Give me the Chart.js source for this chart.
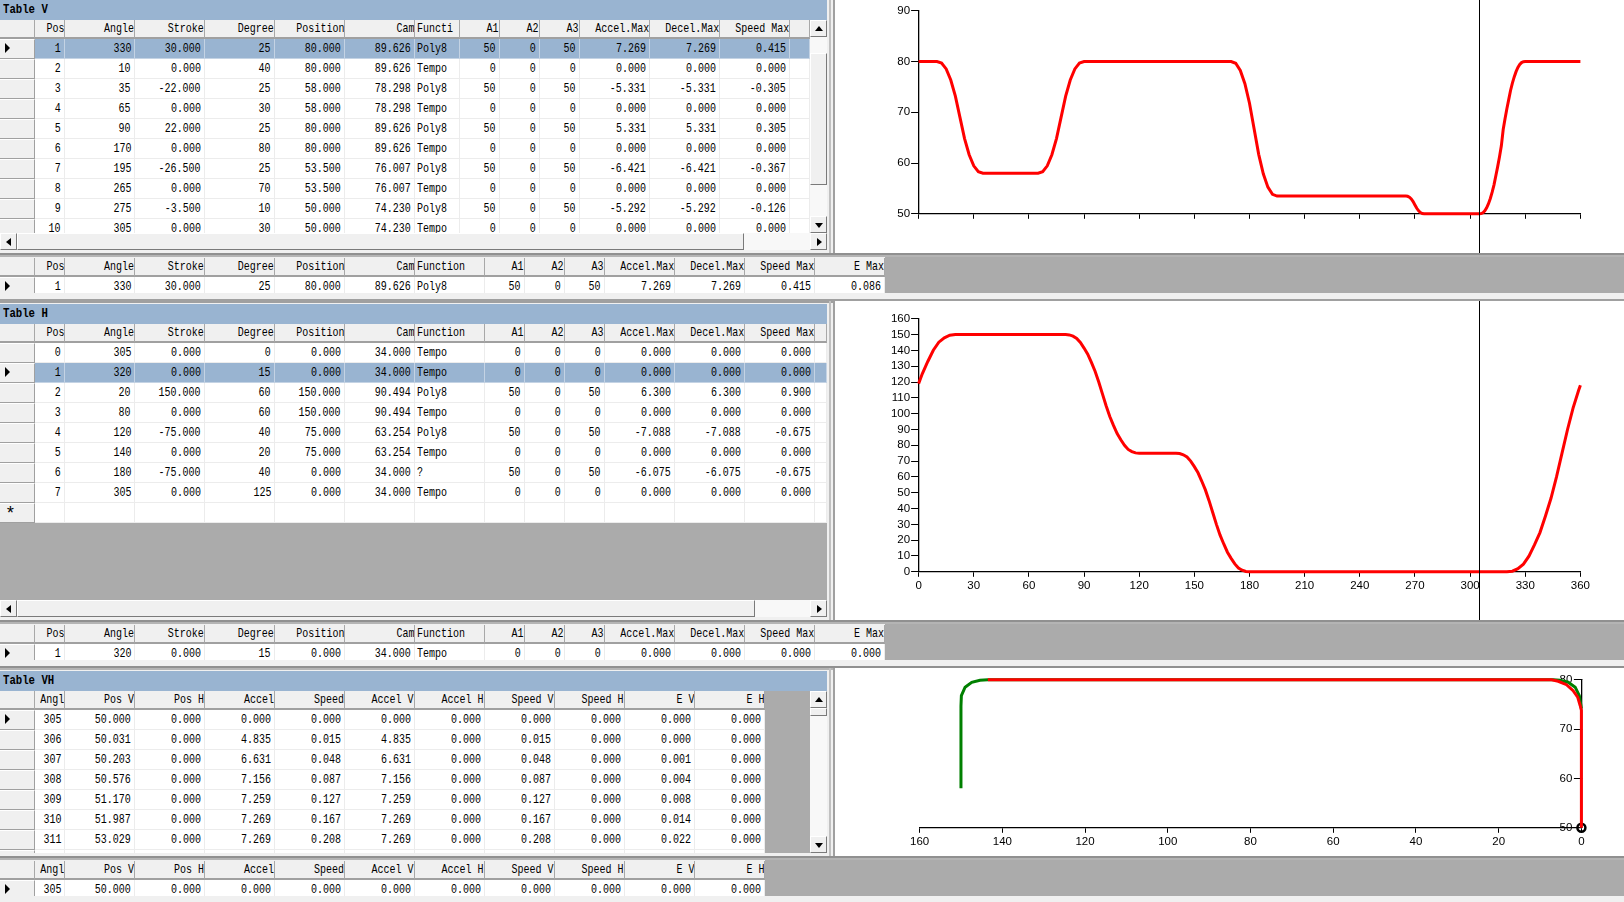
<!DOCTYPE html>
<html>
<head>
<meta charset="utf-8">
<title>Cam tables</title>
<script src="https://cdn.jsdelivr.net/npm/chart.js@4"></script>
<style>
html,body{margin:0;padding:0;background:#f0f0f0;width:1624px;height:902px;overflow:hidden}
#app{position:relative;width:1624px;height:902px;font-family:"Liberation Mono",monospace;font-size:13px;color:#000}
.b{position:absolute}
.clip{position:absolute;overflow:hidden}
.cell{position:absolute;box-sizing:border-box;overflow:hidden;white-space:nowrap;background:#fff;border-right:1px solid #ececec;border-bottom:1px solid #ececec}
.cell span{position:absolute;top:0;display:block}
.cell.sel{background:#99b4d1;border-color:#c4d3e4}
.cell.head{background:#f0f0f0;border-right:1px solid #a8a8a8;border-bottom:2px solid #a0a0a0}
.cell.rh{background:#f0f0f0;border-right:1px solid #a0a0a0;border-bottom:1px solid #a0a0a0;border-top:1px solid #fff}
.title{position:absolute;left:0;width:827px;background:#99b4d1;font-weight:bold}
.title span{position:absolute;left:3px;display:block;transform:scaleX(.82);transform-origin:left}
.btn{position:absolute;box-sizing:border-box;background:#f0f0f0;border:1px solid;border-color:#fff #7a7a7a #7a7a7a #fff}
.track{position:absolute;background:#f8f8f8}
.tri{position:absolute;width:0;height:0;border-style:solid;border-color:transparent}
.panel{position:absolute;left:835px;width:789px;background:#fff}
canvas{position:absolute;left:0;top:0}
</style>
</head>
<body>
<div id="app"></div>
<script>
// table headers
const headV = ['Pos','Angle','Stroke','Degree','Position','Cam','Functi','A1','A2','A3','Accel.Max','Decel.Max','Speed Max',''];
const headFull = ['Pos','Angle','Stroke','Degree','Position','Cam','Function','A1','A2','A3','Accel.Max','Decel.Max','Speed Max','E Max'];
const headH = ['Pos','Angle','Stroke','Degree','Position','Cam','Function','A1','A2','A3','Accel.Max','Decel.Max','Speed Max',''];
const headVH = ['Angl','Pos V','Pos H','Accel','Speed','Accel V','Accel H','Speed V','Speed H','E V','E H'];

// table rows
const rowsV = [
 ['1','330','30.000','25','80.000','89.626','Poly8','50','0','50','7.269','7.269','0.415',''],
 ['2','10','0.000','40','80.000','89.626','Tempo','0','0','0','0.000','0.000','0.000',''],
 ['3','35','-22.000','25','58.000','78.298','Poly8','50','0','50','-5.331','-5.331','-0.305',''],
 ['4','65','0.000','30','58.000','78.298','Tempo','0','0','0','0.000','0.000','0.000',''],
 ['5','90','22.000','25','80.000','89.626','Poly8','50','0','50','5.331','5.331','0.305',''],
 ['6','170','0.000','80','80.000','89.626','Tempo','0','0','0','0.000','0.000','0.000',''],
 ['7','195','-26.500','25','53.500','76.007','Poly8','50','0','50','-6.421','-6.421','-0.367',''],
 ['8','265','0.000','70','53.500','76.007','Tempo','0','0','0','0.000','0.000','0.000',''],
 ['9','275','-3.500','10','50.000','74.230','Poly8','50','0','50','-5.292','-5.292','-0.126',''],
 ['10','305','0.000','30','50.000','74.230','Tempo','0','0','0','0.000','0.000','0.000','']
];
const rowV2 = ['1','330','30.000','25','80.000','89.626','Poly8','50','0','50','7.269','7.269','0.415','0.086'];
const rowsH = [
 ['0','305','0.000','0','0.000','34.000','Tempo','0','0','0','0.000','0.000','0.000',''],
 ['1','320','0.000','15','0.000','34.000','Tempo','0','0','0','0.000','0.000','0.000',''],
 ['2','20','150.000','60','150.000','90.494','Poly8','50','0','50','6.300','6.300','0.900',''],
 ['3','80','0.000','60','150.000','90.494','Tempo','0','0','0','0.000','0.000','0.000',''],
 ['4','120','-75.000','40','75.000','63.254','Poly8','50','0','50','-7.088','-7.088','-0.675',''],
 ['5','140','0.000','20','75.000','63.254','Tempo','0','0','0','0.000','0.000','0.000',''],
 ['6','180','-75.000','40','0.000','34.000','?','50','0','50','-6.075','-6.075','-0.675',''],
 ['7','305','0.000','125','0.000','34.000','Tempo','0','0','0','0.000','0.000','0.000',''],
 ['','','','','','','','','','','','','','']
];
const rowH2 = ['1','320','0.000','15','0.000','34.000','Tempo','0','0','0','0.000','0.000','0.000','0.000'];
const rowsVH = [
 ['305','50.000','0.000','0.000','0.000','0.000','0.000','0.000','0.000','0.000','0.000'],
 ['306','50.031','0.000','4.835','0.015','4.835','0.000','0.015','0.000','0.000','0.000'],
 ['307','50.203','0.000','6.631','0.048','6.631','0.000','0.048','0.000','0.001','0.000'],
 ['308','50.576','0.000','7.156','0.087','7.156','0.000','0.087','0.000','0.004','0.000'],
 ['309','51.170','0.000','7.259','0.127','7.259','0.000','0.127','0.000','0.008','0.000'],
 ['310','51.987','0.000','7.269','0.167','7.269','0.000','0.167','0.000','0.014','0.000'],
 ['311','53.029','0.000','7.269','0.208','7.269','0.000','0.208','0.000','0.022','0.000'],
 ['','','','','','','','','','','']
];
const rowVH2 = ['305','50.000','0.000','0.000','0.000','0.000','0.000','0.000','0.000','0.000','0.000'];

// position V against angle
const angleV = [0,10,12.5,15,17.5,20,22.5,25,27.5,30,32.5,35,65,67.5,70,72.5,75,77.5,80,82.5,85,87.5,90,170,172.5,175,177.5,180,182.5,185,187.5,190,192.5,195,265,266,267,268,269,270,271,272,273,274,275,305,306,307,308,309,310,311,312,313,314,315,316,317,318,319,320,321,322,323,324,325,326,327,328,329,330,360];
const posV = [80,80,79.71,78.55,76.37,73.18,69,64.82,61.63,59.45,58.29,58,58,58.29,59.45,61.63,64.82,69,73.18,76.37,78.55,79.71,80,80,79.66,78.25,75.63,71.79,66.75,61.71,57.87,55.25,53.84,53.5,53.5,53.45,53.27,52.92,52.42,51.75,51.08,50.58,50.23,50.05,50,50,50.031,50.203,50.576,51.17,51.987,53.029,54.26,55.7,57.5,59.3,61.25,63.4,66.6,68.75,70.7,72.5,74.3,75.74,76.971,78.013,78.83,79.424,79.797,79.969,80,80];

// position H against angle
const angleH = [0,2,5,8,11,14,17,20,80,82,84,86,88,90,92,94,96,98,100,102,104,106,108,110,112,114,116,118,120,140,142,144,146,148,150,152,154,156,158,160,162,164,166,168,170,172,174,176,178,180,320,323,326,329,332,335,338,341,344,347,350,353,356,359,360];
const posH = [119,125.2,133,140.1,145.2,148,149.6,150,150,149.8,149,147.6,145,141.5,137.6,132.4,126.8,120,112.5,105,98.2,92.6,87.4,83.5,80,77.4,76,75.2,75,75,74.8,74,72.6,70,66.5,62.6,57.4,51.8,45,37.5,30,23.2,17.6,12.4,8.5,5,2.4,1,0.2,0,0,0.4,2,4.8,9.9,17,24.8,35.3,46.5,60,75,90,103.5,114.7,118];

// V against H
const redH = [0,0,0.3,0.9,2,3.6,5.6,7.2,143.5];
const redV = [50,73.8,74.8,76.5,77.8,79,79.7,80,80];
const greenH = [0,0.5,1.5,3.2,5.2,6.8,143.5,145.4,147.4,149,149.9,150,150];
const greenV = [74.2,76.8,78.5,79.5,79.9,80,80,79.9,79.5,78.5,76.8,74.65,58];

const cursorAngle = 305;
const markerH = 0;
const markerV = 50;

const app = document.getElementById('app');

function box(x,y,w,h,color,cls){
  var d = document.createElement('div');
  d.className = cls || 'b';
  d.style.left = x+'px'; d.style.top = y+'px'; d.style.width = w+'px'; d.style.height = h+'px';
  if(color) d.style.background = color;
  app.appendChild(d);
  return d;
}

function cell(parent,x,y,w,h,text,cls,leftAlign){
  var d = document.createElement('div');
  d.className = 'cell '+cls;
  d.style.left = x+'px'; d.style.top = y+'px'; d.style.width = w+'px'; d.style.height = h+'px';
  if(text!==''){
    var s = document.createElement('span');
    s.textContent = text;
    s.style.lineHeight = (cls=='head'?18:19)+'px';
    s.style.transform = 'scaleX(.77)';
    if(leftAlign){ s.style.left='2px'; s.style.transformOrigin='left'; }
    else { s.style.right=(cls=='head'?'0px':'3px'); s.style.transformOrigin='right'; }
    d.appendChild(s);
  }
  parent.appendChild(d);
}

// edges of the grid columns, first one is the row header
function grid(top,bottom,width,edges,head,rows,selected,marker,leftCols,rowH){
  var c = document.createElement('div');
  c.className = 'clip';
  c.style.left='0px'; c.style.top=top+'px'; c.style.width=width+'px'; c.style.height=(bottom-top)+'px';
  app.appendChild(c);
  cell(c,0,0,edges[0],19,'','head');
  head.forEach(function(t,i){
    cell(c,edges[i],0,edges[i+1]-edges[i],19,t,'head',leftCols.indexOf(i)>=0 && t!='Cam');
  });
  rows.forEach(function(r,j){
    var y = 19+j*rowH;
    cell(c,0,y,edges[0],rowH,'','rh');
    r.forEach(function(t,i){
      cell(c,edges[i],y,edges[i+1]-edges[i],rowH,t,j==selected?'sel':'',leftCols.indexOf(i)>=0);
    });
    if(j==marker){
      var a = box(5,y+4,0,0,null,'tri');
      a.style.borderWidth='5px 0 5px 5px'; a.style.borderLeftColor='#000';
      c.appendChild(a);
    }
  });
  return c;
}

function title(y,h,text){
  var d = box(0,y,827,h,null,'title');
  var s = document.createElement('span');
  s.textContent = text; s.style.lineHeight = h+'px';
  d.appendChild(s);
}

function arrowBtn(x,y,w,h,dir){
  var d = box(x,y,w,h,null,'btn');
  var a = document.createElement('div');
  a.className='tri';
  if(dir=='up'){a.style.left=(w/2-5)+'px';a.style.top=(h/2-4)+'px';a.style.borderWidth='0 4px 5px 4px';a.style.borderBottomColor='#000';}
  if(dir=='down'){a.style.left=(w/2-5)+'px';a.style.top=(h/2-3)+'px';a.style.borderWidth='5px 4px 0 4px';a.style.borderTopColor='#000';}
  if(dir=='left'){a.style.left=(w/2-4)+'px';a.style.top=(h/2-5)+'px';a.style.borderWidth='4px 5px 4px 0';a.style.borderRightColor='#000';}
  if(dir=='right'){a.style.left=(w/2-3)+'px';a.style.top=(h/2-5)+'px';a.style.borderWidth='4px 0 4px 5px';a.style.borderLeftColor='#000';}
  d.appendChild(a);
}

function hbar(y,thumbEnd){
  box(0,y,827,17,null,'track');
  arrowBtn(0,y,17,17,'left');
  box(17,y,thumbEnd-17,17,null,'btn');
  arrowBtn(810,y,17,17,'right');
}

function vbar(y0,y1,thumbTop,thumbEnd){
  box(810,y0,17,y1-y0,null,'track');
  arrowBtn(810,y0,17,17,'up');
  box(810,thumbTop,17,thumbEnd-thumbTop,null,'btn');
  arrowBtn(810,y1-17,17,17,'down');
}

function splitter(y){
  box(0,y,1624,2,'#909090');
  box(0,y+2,1624,2,'#b4b4b4');
}

const edgesV = [35,65,135,205,275,345,415,460,500,540,580,650,720,790,810];
const edgesWide = [35,65,135,205,275,345,415,485,525,565,605,675,745,815,885];
const edgesH = [35,65,135,205,275,345,415,485,525,565,605,675,745,815,827];
const edgesVH = [35,65,135,205,275,345,415,485,555,625,695,765];

// gray client areas and separators
box(885,257,739,36,'#ababab');
box(0,523,827,77,'#ababab');
box(885,624,739,36,'#ababab');
box(765,691,45,162,'#ababab');
box(765,860,859,36,'#ababab');
splitter(253);
box(0,299,1624,4,'#a0a0a0');
splitter(620);
splitter(666);
splitter(856);
box(829,0,2,253,'#c0c0c0');
box(833,0,2,253,'#a0a0a0');
box(829,301,2,319,'#c0c0c0');
box(833,301,2,319,'#a0a0a0');
box(829,668,2,188,'#c0c0c0');
box(833,668,2,188,'#a0a0a0');

// Table V
title(0,20,'Table V');
grid(20,233,810,edgesV,headV,rowsV,0,0,[6],20);
hbar(233,744);
vbar(20,233,53,185);
grid(258,293,885,edgesWide,headFull,[rowV2],-1,0,[6],20);

// Table H
title(304,20,'Table H');
grid(324,523,827,edgesH,headH,rowsH,1,1,[6],20);
var star = document.createElement('div');
star.className='b'; star.textContent='*';
star.style.left='5px'; star.style.top='505px'; star.style.lineHeight='19px'; star.style.fontSize='18px';
app.appendChild(star);
hbar(600,755);
grid(625,660,885,edgesWide,headFull,[rowH2],-1,0,[6],20);

// Table VH
title(671,20,'Table VH');
grid(691,853,765,edgesVH,headVH,rowsVH,-1,0,[],20);
vbar(691,853,708,716);
grid(861,896,765,edgesVH,headVH,[rowVH2],-1,0,[],20);

// charts
var tickFont = {family:'"Liberation Sans", Arial, sans-serif', size:11.5};

const cursorPlugin = {
  id:'cursorPlugin',
  afterDraw:function(chart){
    if(!chart.options.plugins.cursorPlugin.show) return;
    var x = Math.round(chart.scales.x.getPixelForValue(cursorAngle))+0.5;
    var c = chart.ctx;
    c.save();
    c.strokeStyle='#000'; c.lineWidth=1;
    c.beginPath(); c.moveTo(x,0); c.lineTo(x,chart.height); c.stroke();
    c.restore();
  }
};
Chart.register(cursorPlugin);

function panel(y,h){
  var d = box(835,y,789,h,null,'panel');
  var cv = document.createElement('canvas');
  cv.width = 789; cv.height = h;
  d.appendChild(cv);
  return cv;
}

function pairs(xs,ys){
  return xs.map(function(x,i){ return {x:x,y:ys[i]}; });
}

function axisX(showLabels,min,max,step,reverse,h){
  return {
    type:'linear',min:min,max:max,reverse:reverse,
    border:{color:'#000',width:1.3},
    grid:{drawOnChartArea:false,drawTicks:true,tickLength:5,color:'#000',lineWidth:1},
    ticks:{display:showLabels,stepSize:step,autoSkip:false,maxRotation:0,padding:2,color:'#000',font:tickFont},
    afterFit:function(s){ s.height=h; }
  };
}

function axisY(min,max,step){
  return {
    type:'linear',min:min,max:max,
    border:{color:'#000',width:1.3},
    grid:{drawOnChartArea:false,drawTicks:true,tickLength:7.5,color:'#000',lineWidth:1},
    ticks:{stepSize:step,autoSkip:false,padding:1,color:'#000',font:tickFont},
    afterFit:function(s){ s.width=83.6; }
  };
}

function baseOptions(pad,scales,show){
  return {
    responsive:false,animation:false,events:[],
    layout:{padding:pad},
    plugins:{legend:{display:false},tooltip:{enabled:false},cursorPlugin:{show:show}},
    elements:{point:{radius:0}},
    scales:scales
  };
}

new Chart(panel(0,253),{
  type:'line',
  data:{datasets:[{data:pairs(angleV,posV),borderColor:'#ff0000',borderWidth:3,tension:0,clip:false}]},
  options:baseOptions({left:0,right:43.6,top:10.8,bottom:0},{x:axisX(false,0,360,30,false,39.2),y:axisY(50,90,10)},true)
});

new Chart(panel(301,319),{
  type:'line',
  data:{datasets:[{data:pairs(angleH,posH),borderColor:'#ff0000',borderWidth:3,tension:0,clip:false}]},
  options:baseOptions({left:0,right:43.6,top:17.8,bottom:0},{x:axisX(true,0,360,30,false,48.2),y:axisY(0,160,10)},true)
});

var yVH = axisY(50,80,10);
yVH.position = 'right';
yVH.grid.tickLength = -7.5;
yVH.ticks.mirror = true;
yVH.ticks.padding = -9;
yVH.afterFit = function(s){ s.width=42.6; };

new Chart(panel(668,188),{
  type:'line',
  data:{datasets:[
    {data:[{x:markerH,y:markerV}],showLine:false,pointRadius:4,pointBorderWidth:2.5,pointBackgroundColor:'rgba(0,0,0,0)',pointBorderColor:'#000',clip:false,order:3},
    {data:pairs(redH,redV),borderColor:'#ff0000',borderWidth:3,tension:0,clip:false,order:1},
    {data:pairs(greenH,greenV),borderColor:'#008000',borderWidth:3,tension:0,clip:false,order:2}
  ]},
  options:baseOptions({left:84.6,right:0,top:11.8,bottom:0},{x:axisX(true,0,160,20,true,28.2),y:yVH},false)
});
</script>
</body>
</html>
